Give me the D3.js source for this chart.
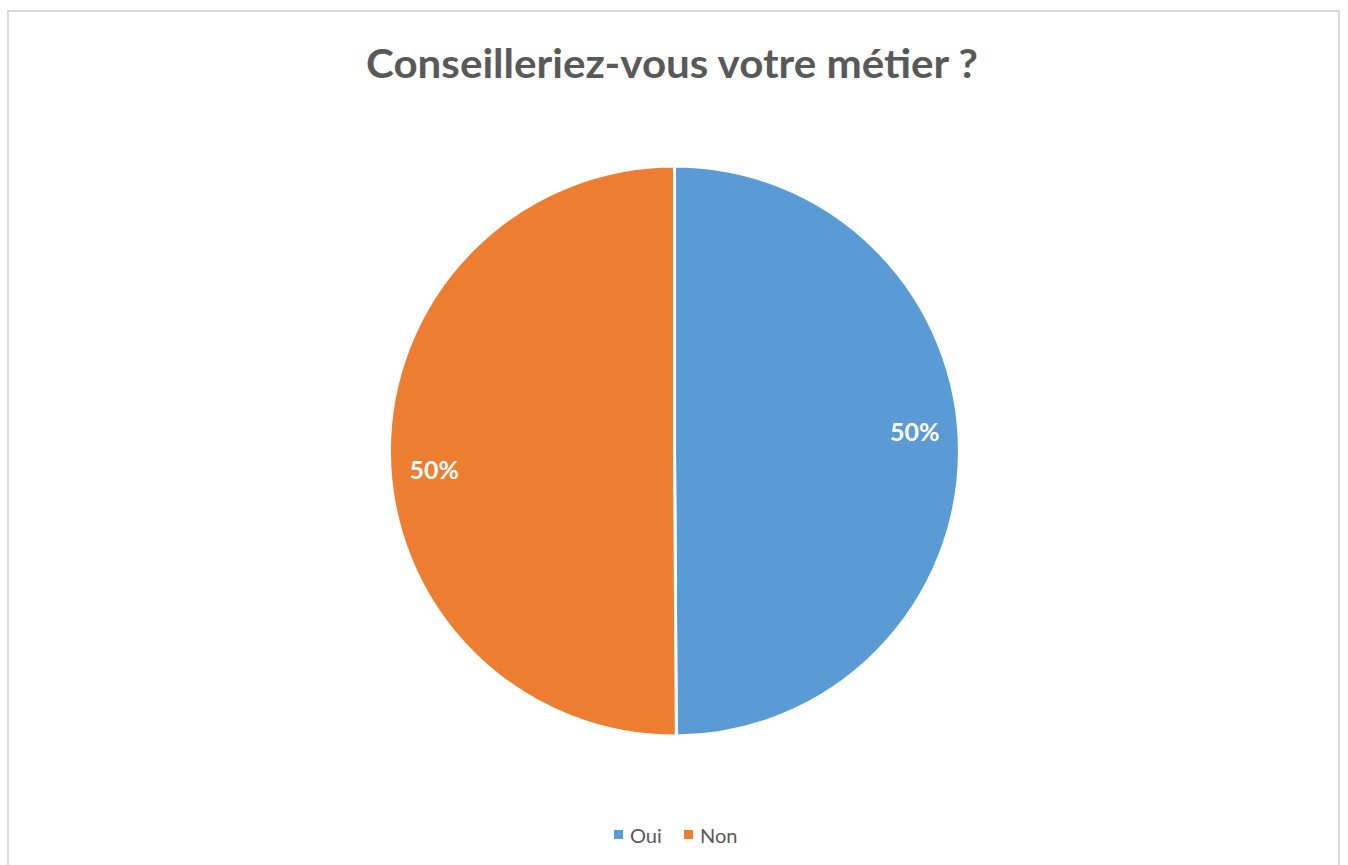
<!DOCTYPE html>
<html><head><meta charset="utf-8">
<script src="https://cdn.jsdelivr.net/npm/d3@7"></script>
<style>html,body{margin:0;padding:0;background:#fff;}svg{display:block;}</style>
</head><body>
<svg id="chart" width="1348" height="865"></svg>
<script>
const categories = ["Oui", "Non"];
const values = [49.9, 50.1];
const labels = ["50%", "50%"];
const colors = ["#5B9BD5", "#ED7D31"];

const svg = d3.select("#chart");
const font = "Lato, 'Open Sans', sans-serif";

// chart frame
svg.append("rect").attr("x", 8).attr("y", 11).attr("width", 1331).attr("height", 900)
  .attr("fill", "#fff").attr("stroke", "#d9d9d9").attr("stroke-width", 2);

// title
svg.append("text").attr("x", 672).attr("y", 78).attr("text-anchor", "middle")
  .attr("font-family", font).attr("font-weight", "bold").attr("font-size", 41)
  .attr("fill", "#595959")
  .attr("textLength", 612).attr("lengthAdjust", "spacingAndGlyphs")
  .text("Conseilleriez-vous votre métier ?");

const cx = 674.5, cy = 451, r = 285;
const data = categories.map((c, i) => ({cat: c, value: values[i], label: labels[i], color: colors[i]}));
const pie = d3.pie().value(d => d.value).sort(null);
const arc = d3.arc().innerRadius(0).outerRadius(r);
const arcs = pie(data);

const g = svg.append("g").attr("transform", `translate(${cx},${cy})`);
g.selectAll("path").data(arcs).enter().append("path")
  .attr("d", arc).attr("fill", d => d.data.color)
  .attr("stroke", "#fff").attr("stroke-width", 3).attr("stroke-linejoin", "round");

const labelR = 241, rot = -0.075;
g.selectAll("text.lbl").data(arcs).enter().append("text").attr("class", "lbl")
  .attr("x", d => labelR * Math.sin((d.startAngle + d.endAngle) / 2 + rot))
  .attr("y", d => -labelR * Math.cos((d.startAngle + d.endAngle) / 2 + rot))
  .attr("dy", "0.35em").attr("text-anchor", "middle")
  .attr("font-family", font).attr("font-weight", "bold").attr("font-size", 25)
  .attr("fill", "#fff").text(d => d.data.label);

// legend
const legendX = [614, 684];
const lg = svg.append("g");
data.forEach((d, i) => {
  lg.append("rect").attr("x", legendX[i]).attr("y", 830).attr("width", 9).attr("height", 9).attr("fill", d.color);
  lg.append("text").attr("x", legendX[i] + 16).attr("y", 843)
    .attr("font-family", font).attr("font-size", 20).attr("fill", "#595959").text(d.cat);
});
</script>
</body></html>
